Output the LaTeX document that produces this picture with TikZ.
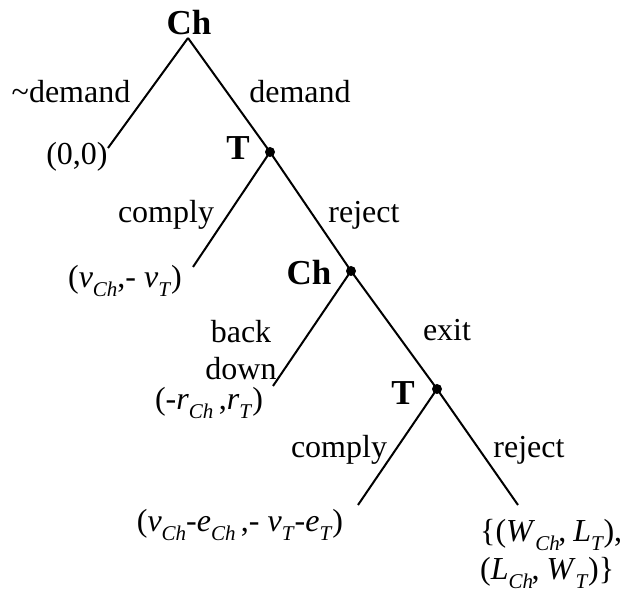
\documentclass[tikz,border=0pt]{standalone}
\usepackage{fontspec}
\setmainfont{Liberation Serif}
\newcommand\sbi[1]{\raisebox{-0.28em}{\fontsize{21}{21}\selectfont\textit{#1}}}
\begin{document}
\begin{tikzpicture}[x=1pt,y=-1pt,
  edge/.style={line width=2pt},
  dot/.style={circle,fill=black,inner sep=0pt,minimum size=10pt},
  lbl/.style={anchor=base,inner sep=0pt,font=\fontsize{32}{37}\selectfont},
  plr/.style={anchor=base,inner sep=0pt,font=\fontsize{35}{40}\selectfont\bfseries}]
\useasboundingbox (0,0) rectangle (622,593);
% tree points
\coordinate (r) at (188,38);
\node[dot] (t1) at (270,152) {};
\node[dot] (c2) at (351,271) {};
\node[dot] (t3) at (437,389) {};
\coordinate (l0) at (108,148);
\coordinate (l1) at (193,267);
\coordinate (l2) at (273,386);
\coordinate (l3) at (358,505);
\coordinate (l4) at (518,505);
% edges
\draw[edge] (r) -- (l0);
\draw[edge] (r) -- (t1.center);
\draw[edge] (t1.center) -- (l1);
\draw[edge] (t1.center) -- (c2.center);
\draw[edge] (c2.center) -- (l2);
\draw[edge] (c2.center) -- (t3.center);
\draw[edge] (t3.center) -- (l3);
\draw[edge] (t3.center) -- (l4);
% player labels
\node[plr] (pCh1) at (189,35) {Ch};
\node[plr] (pT1) at (238,160) {T};
\node[plr] (pCh2) at (309,285) {Ch};
\node[plr] (pT3) at (403,405) {T};
% action labels
\node[lbl] (a1) at (71,103) {\textasciitilde demand};
\node[lbl] (a2) at (300,103) {demand};
\node[lbl] (a3) at (166,223) {comply};
\node[lbl] (a4) at (364,223) {reject};
\node[lbl,align=center] (a5) at (241,380) {back\\down};
\node[lbl] (a6) at (447,341) {exit};
\node[lbl] (a7) at (339,458) {comply};
\node[lbl] (a8) at (529,458) {reject};
% payoffs
\node[lbl] (p0) at (77,165) {(0,0)};
\node[lbl] (p1) at (125,288) {(\textit{v}\sbi{Ch},- \textit{v}\sbi{T})};
\node[lbl] (p2) at (209,410) {(-\textit{r}\sbi{Ch}\,,\textit{r}\sbi{T})};
\node[lbl] (p3) at (240,532) {(\textit{v}\sbi{Ch}-\textit{e}\sbi{Ch}\,,- \textit{v}\sbi{T}-\textit{e}\sbi{T})};
\node[lbl,anchor=base west] (p4a) at (480,542) {\{(\textit{W}\sbi{Ch}\kern-1.5pt,\kern-1pt{} \textit{L}\sbi{T}\kern-0.5pt),};
\node[lbl,anchor=base west] (p4b) at (480,580) {(\textit{L}\sbi{Ch}\kern-1.5pt,\kern-1pt{} \textit{W}\sbi{T}\kern-0.5pt)\}};
\end{tikzpicture}
\end{document}
